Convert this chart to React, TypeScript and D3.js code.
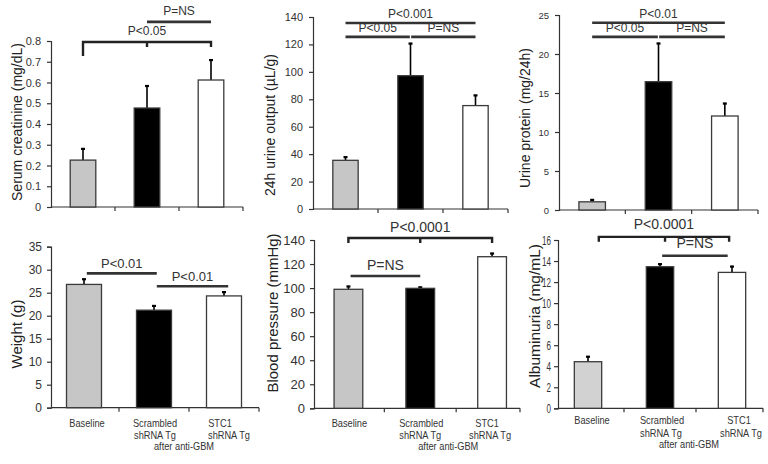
import { useEffect, useRef } from 'react';
import * as d3 from 'd3';

// groups
const categories = ['Baseline', 'Scrambled', 'STC1'];
const catLines = [['Baseline'], ['Scrambled', 'shRNA Tg'], ['STC1', 'shRNA Tg']];
const subLabel = 'after anti-GBM';
const barFills = ['#c6c6c6', '#000000', '#ffffff'];

// values (mean, error)
const creatinineMean = [0.226, 0.477, 0.612];
const creatinineErr = [0.058, 0.11, 0.1];
const urineOutMean = [35.5, 97.2, 75.4];
const urineOutErr = [2.9, 24, 8];
const proteinMean = [1.05, 16.45, 12.05];
const proteinErr = [0.35, 5, 1.7];
const weightMean = [26.8, 21.2, 24.3];
const weightErr = [1.3, 1.1, 1.0];
const bpMean = [99, 99.8, 126.1];
const bpErr = [3, 1.5, 3.3];
const albMean = [4.43, 13.46, 12.92];
const albErr = [0.55, 0.32, 0.63];

// tick labels
const creatinineTicks = ['0', '0.1', '0.2', '0.3', '0.4', '0.5', '0.6', '0.7', '0.8'];
const urineOutTicks = ['0', '20', '40', '60', '80', '100', '120', '140'];
const proteinTicks = ['0', '5', '10', '15', '20', '25'];
const weightTicks = ['0', '5', '10', '15', '20', '25', '30', '35'];
const bpTicks = ['0', '20', '40', '60', '80', '100', '120', '140'];
const albTicks = ['0', '2', '4', '6', '8', '10', '12', '14', '16'];

// significance annotations: a/b/mid in group-index units, y in data units
const creatinineSig = [
  { a: 0, b: 2, mid: 1, y: 0.795, label: 'P<0.05', kind: 'bracket', dropA: 14 },
  { a: 1, b: 2, y: 0.892, label: 'P=NS', kind: 'line' },
];
const urineOutSig = [
  { a: 0, b: 2, y: 135.6, label: 'P<0.001', kind: 'line' },
  { a: 0, b: 0.99, y: 125.5, label: 'P<0.05', kind: 'line' },
  { a: 1.01, b: 2, y: 125.5, label: 'P=NS', kind: 'line' },
];
const proteinSig = [
  { a: 0, b: 2, y: 24.0, label: 'P<0.01', kind: 'line' },
  { a: 0, b: 0.99, y: 22.2, label: 'P<0.05', kind: 'line' },
  { a: 1.01, b: 2, y: 22.2, label: 'P=NS', kind: 'line' },
];
const weightSig = [
  { a: 0.04, b: 1.04, y: 29.2, label: 'P<0.01', kind: 'line' },
  { a: 1.04, b: 2.06, y: 26.4, label: 'P<0.01', kind: 'line' },
];
const bpSig = [
  { a: 0, b: 2, mid: 1, y: 141.7, label: 'P<0.0001', kind: 'bracket' },
  { a: 0.03, b: 1, y: 110, label: 'P=NS', kind: 'line' },
];
const albSig = [
  { a: 0.15, b: 1.96, mid: 1.07, y: 16.3, label: 'P<0.0001', kind: 'bracket' },
  { a: 1.03, b: 1.94, y: 14.5, label: 'P=NS', kind: 'line' },
];

const panels = [
  { mean: creatinineMean, err: creatinineErr, ticks: creatinineTicks, sig: creatinineSig, yLabel: 'Serum creatinine (mg/dL)',
    axisX: 51, bandStart: 51, bandEnd: 243, axisEnd: 243, top: 41, bottom: 207, pad: 0.6,
    labelX: 17, labelY: 122, labelSize: 14, tickSize: 11, tickPad: 6, sigSize: 12, sigGap: 7, cats: false },
  { mean: urineOutMean, err: urineOutErr, ticks: urineOutTicks, sig: urineOutSig, yLabel: '24h urine output (\u00b5L/g)',
    axisX: 313, bandStart: 313, bandEnd: 508, axisEnd: 508, top: 17, bottom: 209, pad: 0.61,
    labelX: 270, labelY: 125, labelSize: 14, tickSize: 11, tickPad: 6, sigSize: 12, sigGap: 5, cats: false },
  { mean: proteinMean, err: proteinErr, ticks: proteinTicks, sig: proteinSig, yLabel: 'Urine protein (mg/24h)',
    axisX: 559, bandStart: 559, bandEnd: 758, axisEnd: 758, top: 15, bottom: 210, pad: 0.6,
    labelX: 525, labelY: 118, labelSize: 14, tickSize: 9.5, tickPad: 6, sigSize: 12, sigGap: 5, cats: false },
  { mean: weightMean, err: weightErr, ticks: weightTicks, sig: weightSig, yLabel: 'Weight (g)',
    axisX: 51, bandStart: 49, bandEnd: 259, axisEnd: 259, top: 246.7, bottom: 407.7, pad: 0.5,
    labelX: 17, labelY: 334, labelSize: 15, tickSize: 12, tickPad: 5, sigSize: 13, sigGap: 5, cats: true,
    catY: [427, 438.5, 450], catDx: [3, 1, 1, 30, -4, 5] },
  { mean: bpMean, err: bpErr, ticks: bpTicks, sig: bpSig, yLabel: 'Blood pressure (mmHg)',
    axisX: 314, bandStart: 312.5, bandEnd: 528, axisEnd: 520, top: 240, bottom: 408.3, pad: 0.6,
    labelX: 273, labelY: 313, labelSize: 15, tickSize: 13, tickPad: 5, sigSize: 14, sigGap: 6, cats: true,
    catY: [427, 438.5, 450], catDx: [1, 1, 0, 28, -5, -2] },
  { mean: albMean, err: albErr, ticks: albTicks, sig: albSig, yLabel: 'Albuminuria (mg/mL)',
    axisX: 558, bandStart: 552, bandEnd: 768, axisEnd: 763, top: 240, bottom: 408.3, pad: 0.62,
    labelX: 535, labelY: 316, labelSize: 15.5, tickSize: 13, tickPad: 3, sigSize: 14, sigGap: 8, cats: true, narrow: 0.62,
    catY: [424, 437, 448], catDx: [4, 2, 1, 29, 7, 9] },
];

const FONT = '"Liberation Sans", Arial, sans-serif';
const INK = '#333';

// squeeze rendered text horizontally, to mimic the condensed face of the original
function condense(sel: any, factor: number) {
  sel.each(function (this: SVGTextElement) {
    const w = this.getComputedTextLength();
    d3.select(this).attr('textLength', w * factor).attr('lengthAdjust', 'spacingAndGlyphs');
  });
}

export default function App() {
  const svgRef = useRef<SVGSVGElement>(null);

  useEffect(() => {
    const svg = d3.select(svgRef.current);
    svg.selectAll('*').remove();

    panels.forEach((p: any) => {
      const g = svg.append('g');
      const yMax = +p.ticks[p.ticks.length - 1];
      const y = d3.scaleLinear().domain([0, yMax]).range([p.bottom, p.top]);
      const x = d3.scaleBand().domain(categories).range([p.bandStart, p.bandEnd]).paddingInner(p.pad).paddingOuter(p.pad / 2);
      const step = x.step();
      const c0 = x(categories[0])! + x.bandwidth() / 2;
      const xi = (i: number) => c0 + i * step;

      // y axis
      const yAxis = d3.axisLeft(y).tickValues(p.ticks.map(Number)).tickFormat((_d, i) => p.ticks[i]).tickSize(4).tickPadding(p.tickPad);
      g.append('g').attr('transform', `translate(${p.axisX},0)`).call(yAxis)
        .call(s => s.select('.domain').attr('stroke', INK).attr('stroke-width', 1.2))
        .call(s => s.selectAll('.tick line').attr('stroke', INK).attr('stroke-width', 1.2))
        .call(s => s.selectAll('.tick text').attr('fill', INK).style('font-family', FONT).style('font-size', `${p.tickSize}px`))
        .call(s => { if (p.narrow) condense(s.selectAll('.tick text'), p.narrow); });

      // x axis line with ticks at group boundaries
      g.append('line').attr('x1', p.axisX).attr('x2', p.axisEnd).attr('y1', p.bottom).attr('y2', p.bottom)
        .attr('stroke', INK).attr('stroke-width', 1.2);
      [1, 2, 3].forEach(k => {
        const bx = Math.min(p.bandStart + k * (p.bandEnd - p.bandStart) / 3, p.axisEnd);
        g.append('line').attr('x1', bx).attr('x2', bx).attr('y1', p.bottom).attr('y2', p.bottom + 4)
          .attr('stroke', INK).attr('stroke-width', 1.2);
      });

      // error bars
      g.selectAll('.err').data(p.mean).enter().append('line')
        .attr('x1', (_d: any, i: number) => x(categories[i])! + x.bandwidth() / 2)
        .attr('x2', (_d: any, i: number) => x(categories[i])! + x.bandwidth() / 2)
        .attr('y1', (d: number) => y(d)).attr('y2', (d: number, i: number) => y(d + p.err[i]))
        .attr('stroke', '#000').attr('stroke-width', 1.6);
      g.selectAll('.cap').data(p.mean).enter().append('line')
        .attr('x1', (_d: any, i: number) => x(categories[i])! + x.bandwidth() / 2 - 2)
        .attr('x2', (_d: any, i: number) => x(categories[i])! + x.bandwidth() / 2 + 2)
        .attr('y1', (d: number, i: number) => y(d + p.err[i]) + 0.8).attr('y2', (d: number, i: number) => y(d + p.err[i]) + 0.8)
        .attr('stroke', '#000').attr('stroke-width', 2.2);

      // bars
      g.selectAll('.bar').data(p.mean).enter().append('rect')
        .attr('x', (_d: any, i: number) => x(categories[i])!).attr('width', x.bandwidth())
        .attr('y', (d: number) => y(d)).attr('height', (d: number) => p.bottom - y(d))
        .attr('fill', (_d: any, i: number) => (p.narrow && i === 0 ? '#d2d2d2' : barFills[i]))
        .attr('stroke', '#3a3a3a').attr('stroke-width', 1.3);

      // y label
      g.append('text').attr('transform', `translate(${p.labelX},${p.labelY}) rotate(-90)`)
        .attr('text-anchor', 'middle').attr('dy', '0.35em')
        .style('font-family', FONT).style('font-size', `${p.labelSize}px`).attr('fill', '#222')
        .text(p.yLabel);

      // significance marks
      p.sig.forEach((s: any) => {
        const ly = y(s.y);
        const xa = xi(s.a), xb = xi(s.b);
        if (s.kind === 'bracket') {
          const drop = 5;
          const path = d3.path();
          path.moveTo(xa, ly + (s.dropA || drop)); path.lineTo(xa, ly); path.lineTo(xb, ly); path.lineTo(xb, ly + drop);
          path.moveTo(xi(s.mid), ly); path.lineTo(xi(s.mid), ly + drop);
          g.append('path').attr('d', path.toString()).attr('fill', 'none').attr('stroke', '#222').attr('stroke-width', 2.4);
        } else {
          g.append('line').attr('x1', xa).attr('x2', xb).attr('y1', ly).attr('y2', ly)
            .attr('stroke', '#333').attr('stroke-width', 2.6);
        }
        g.append('text').attr('x', (xa + xb) / 2).attr('y', ly - p.sigGap).attr('text-anchor', 'middle')
          .style('font-family', FONT).style('font-size', `${p.sigSize}px`).attr('fill', '#333')
          .text(s.label);
      });

      // category labels
      if (p.cats) {
        const items: { t: string; i: number; row: number; k: number }[] = [];
        let k = 0;
        catLines.forEach((lines, i) => {
          lines.forEach((t, row) => {
            items.push({ t, i, row, k: k++ });
            if (i === 1 && row === 1) items.push({ t: subLabel, i, row: 2, k: k++ });
          });
        });
        const labels = g.selectAll('.cat').data(items).enter().append('text')
          .attr('x', d => x(categories[d.i])! + x.bandwidth() / 2 + p.catDx[d.k])
          .attr('y', d => p.catY[d.row]).attr('text-anchor', 'middle')
          .style('font-family', FONT).style('font-size', '10.5px').attr('fill', '#333')
          .text(d => d.t);
        condense(labels, 0.88);
      }
    });
  }, []);

  return (
    <div style={{ position: 'fixed', left: 0, top: 0, width: 768, height: 464, background: '#fff' }}>
      <svg ref={svgRef} width={768} height={464} />
    </div>
  );
}
